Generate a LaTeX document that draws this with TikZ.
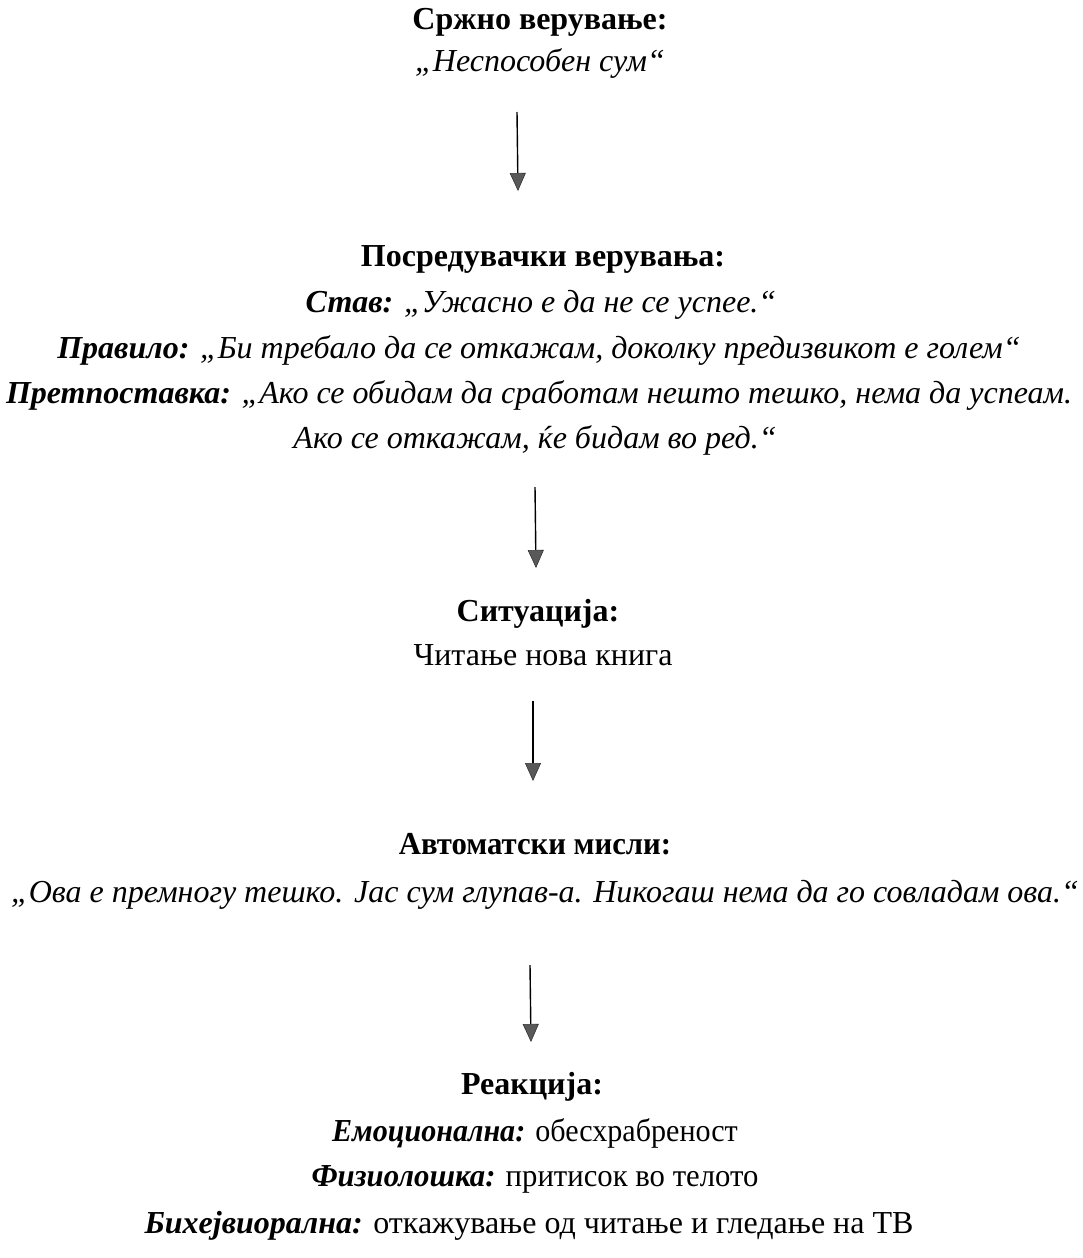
\documentclass[tikz,border=0pt]{standalone}
\usepackage{fontspec}
\setmainfont{Liberation Serif}
\usetikzlibrary{arrows.meta}
\tikzset{
  txt/.style={inner sep=0pt, anchor=base, font=\fontsize{16}{18}\selectfont},
  cond/.style={transform shape, xscale=#1},
  flow/.style={line width=0.7pt, draw=black, -{Triangle[width=8pt,length=9pt,fill=black!65,color=black!80,line width=0.3pt]}},
}
\begin{document}
\begin{tikzpicture}[x=0.5pt,y=-0.5pt]
\useasboundingbox (0,0) rectangle (1082,1258);
% core belief
\node[txt] (h1) at (540,29) {\textbf{Сржно верување:}};
\node[txt] (t1) at (540,71) {\textit{„Неспособен сум“}};
% intermediate beliefs
\node[txt] (h2) at (543,266) {\textbf{Посредувачки верувања:}};
\node[txt] (t2a) at (541,312) {\textbf{\textit{Став:}} \textit{„Ужасно е да не се успее.“}};
\node[txt] (t2b) at (539,358) {\textbf{\textit{Правило:}} \textit{„Би требало да се откажам, доколку предизвикот е голем“}};
\node[txt] (t2c) at (539,403) {\textbf{\textit{Претпоставка:}} \textit{„Ако се обидам да сработам нешто тешко, нема да успеам.}};
\node[txt] (t2d) at (535,448) {\textit{Ако се откажам, ќе бидам во ред.“}};
% situation
\node[txt] (h3) at (538,621) {\textbf{Ситуација:}};
\node[txt] (t3) at (543,665) {Читање нова книга};
% automatic thoughts
\node[txt,cond=0.96] (h4) at (535,854) {\textbf{Автоматски мисли:}};
\node[txt] (t4) at (545,902) {\textit{„Ова е премногу тешко. Јас сум глупав-а. Никогаш нема да го совладам ова.“}};
% reaction
\node[txt] (h5) at (532,1094) {\textbf{Реакција:}};
\node[txt,cond=0.94] (t5a) at (535,1141) {\textbf{\textit{Емоционална:}} обесхрабреност};
\node[txt,cond=0.96] (t5b) at (535,1186) {\textbf{\textit{Физиолошка:}} притисок во телото};
\node[txt] (t5c) at (529,1233) {\textbf{\textit{Бихејвиорална:}} откажување од читање и гледање на ТВ};
% arrows
\coordinate (a1s) at (517,112); \coordinate (a1e) at (518,191);
\coordinate (a2s) at (535,487); \coordinate (a2e) at (536,568);
\coordinate (a3s) at (533,701); \coordinate (a3e) at (533,781);
\coordinate (a4s) at (530,965); \coordinate (a4e) at (531,1042);
\draw[flow] (a1s) -- (a1e);
\draw[flow] (a2s) -- (a2e);
\draw[flow] (a3s) -- (a3e);
\draw[flow] (a4s) -- (a4e);
\end{tikzpicture}
\end{document}
